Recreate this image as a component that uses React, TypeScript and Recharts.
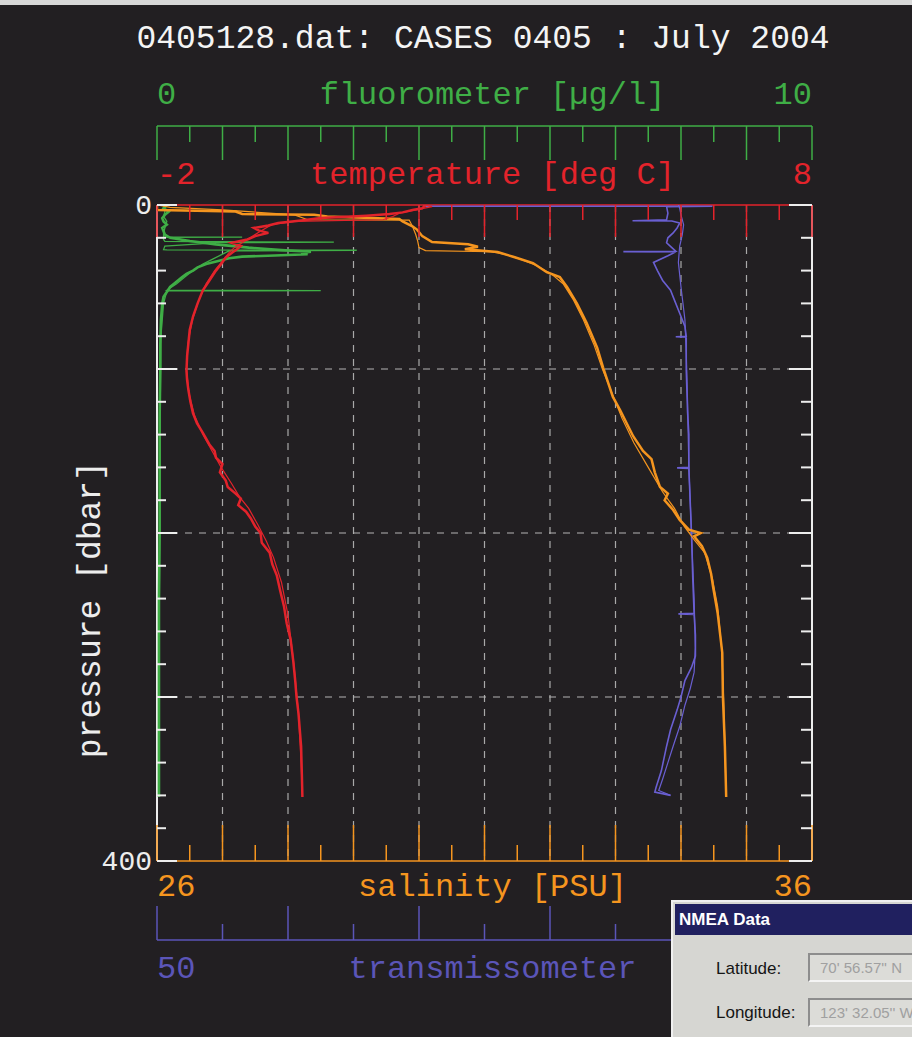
import React from 'react';
import { ScatterChart, Scatter, XAxis, YAxis, ReferenceLine } from 'recharts';

// axis ticks
const pressureTicks = [0, 20, 40, 60, 80, 100, 120, 140, 160, 180, 200, 220, 240, 260, 280, 300, 320, 340, 360, 380, 400];
const tempTicks = [-2, -1.5, -1, -0.5, 0, 0.5, 1, 1.5, 2, 2.5, 3, 3.5, 4, 4.5, 5, 5.5, 6, 6.5, 7, 7.5, 8];
const fluorTicks = [0, 0.5, 1, 1.5, 2, 2.5, 3, 3.5, 4, 4.5, 5, 5.5, 6, 6.5, 7, 7.5, 8, 8.5, 9, 9.5, 10];
const salTicks = [26, 26.5, 27, 27.5, 28, 28.5, 29, 29.5, 30, 30.5, 31, 31.5, 32, 32.5, 33, 33.5, 34, 34.5, 35, 35.5, 36];
const transTicks = [50, 55, 60, 65, 70, 75, 80, 85, 90, 95, 100];
const gridTemps = [-1, 0, 1, 2, 3, 4, 5, 6, 7];
const gridPressures = [100, 200, 300];

// temperature [deg C], down and up cast
const tempDownP = [0, 2, 3, 4.5, 5.5, 6.5, 8, 9.5, 11, 12.5, 14, 15.5, 17, 19, 21, 23, 25, 27, 29, 32, 36, 40, 46, 52, 60, 68, 76, 84, 92, 101, 107, 113, 120, 127, 133, 139, 146, 150, 154, 158, 163, 168, 172, 176, 179, 183, 187, 191, 196, 200, 206, 212, 219, 226, 235, 245, 255, 265, 278, 290, 300, 310, 320, 330, 345, 361];
const tempDownV = [2.1, 2.05, 1.9, 1.75, 1.55, 1.2, 0.5, 0.2, -0.15, -0.3, -0.52, -0.45, -0.3, -0.5, -0.62, -0.86, -0.72, -0.78, -0.85, -0.95, -1.02, -1.1, -1.2, -1.3, -1.38, -1.45, -1.5, -1.52, -1.54, -1.55, -1.54, -1.52, -1.49, -1.45, -1.39, -1.3, -1.2, -1.12, -1.1, -1.0, -1.04, -0.95, -0.92, -0.8, -0.72, -0.76, -0.64, -0.57, -0.5, -0.42, -0.4, -0.28, -0.24, -0.17, -0.12, -0.06, -0.02, 0.04, 0.08, 0.11, 0.13, 0.16, 0.18, 0.2, 0.21, 0.22];
const tempUpP = [361, 340, 310, 280, 250, 230, 215, 205, 195, 185, 178, 170, 160, 150, 140, 128, 115, 100, 85, 70, 58, 48, 40, 34, 29, 26, 23, 20, 16, 12, 10, 9, 7, 5, 3, 1, 0];
const tempUpV = [0.22, 0.2, 0.16, 0.09, 0.0, -0.1, -0.22, -0.33, -0.46, -0.6, -0.74, -0.86, -1.02, -1.16, -1.3, -1.43, -1.51, -1.55, -1.53, -1.46, -1.36, -1.25, -1.12, -1.0, -0.9, -0.82, -0.7, -0.58, -0.42, -0.25, 0.1, 1.45, 1.6, 1.7, 1.95, 2.2, 2.1];

// salinity [PSU]
const salDownP = [0, 3, 4, 5.5, 6, 7, 8.5, 10, 13, 15, 19, 22.6, 24, 25.5, 27, 28.7, 31.7, 35.4, 41, 44, 50, 60, 72, 87, 99, 117, 125, 141, 150, 155, 163, 172, 176, 180, 186, 192, 198, 200, 202, 208, 215, 225, 233, 249, 273, 300, 330, 361];
const salDownV = [26.0, 26.0, 27.2, 27.3, 28.4, 28.6, 29.7, 29.75, 29.9, 29.97, 30.05, 30.2, 30.75, 30.9, 30.7, 31.2, 31.45, 31.74, 31.95, 32.15, 32.26, 32.41, 32.56, 32.72, 32.81, 32.96, 33.07, 33.27, 33.42, 33.55, 33.6, 33.68, 33.8, 33.75, 33.88, 33.98, 34.12, 34.3, 34.2, 34.32, 34.4, 34.46, 34.49, 34.56, 34.63, 34.64, 34.67, 34.69];
const salUpP = [361, 330, 300, 270, 245, 228, 212, 204, 196, 185, 175, 160, 145, 130, 115, 100, 85, 70, 58, 48, 42, 37, 33, 30, 28.5, 27.8, 26, 22, 18, 13, 9.2, 9, 6, 3, 1.5, 0];
const salUpV = [34.69, 34.67, 34.65, 34.62, 34.56, 34.48, 34.36, 34.2, 34.05, 33.9, 33.72, 33.5, 33.28, 33.1, 32.95, 32.8, 32.67, 32.51, 32.36, 32.2, 32.02, 31.8, 31.55, 31.3, 31.1, 30.1, 30.0, 29.98, 29.95, 29.9, 29.85, 28.3, 28.1, 27.0, 26.2, 26.0];

// fluorometer [ug/l]
const fluorDownP = [0, 2, 4, 6, 8, 10, 12, 14, 16, 18, 20, 22, 24, 26, 27.5, 28.5, 29.3, 30, 30.8, 31.5, 32.5, 34, 36, 38, 40, 42, 44, 46, 48, 50, 53, 56, 60, 70, 85, 100, 130, 160, 200, 240, 280, 320, 361];
const fluorDownV = [0.15, 0.1, 0.18, 0.12, 0.08, 0.1, 0.15, 0.08, 0.1, 0.12, 0.2, 0.5, 0.9, 1.4, 1.9, 2.35, 2.2, 2.3, 1.8, 1.3, 1.1, 0.95, 0.75, 0.62, 0.55, 0.45, 0.38, 0.32, 0.26, 0.2, 0.15, 0.1, 0.08, 0.06, 0.05, 0.05, 0.04, 0.04, 0.04, 0.03, 0.03, 0.03, 0.03];
const fluorUpP = [361, 300, 200, 120, 80, 60, 54, 52.4, 52.2, 52, 48, 44, 40, 36, 33, 30, 28, 27.6, 27.4, 27.2, 25, 23, 22.6, 22.4, 22.2, 21, 19.8, 19.6, 19.4, 17, 14, 10, 7, 4, 2, 0];
const fluorUpV = [0.03, 0.03, 0.04, 0.05, 0.06, 0.1, 0.14, 0.15, 2.5, 0.15, 0.3, 0.42, 0.55, 0.7, 0.85, 1.0, 1.1, 3.05, 0.15, 0.1, 0.12, 0.95, 2.7, 0.95, 0.12, 0.1, 0.1, 1.3, 0.1, 0.1, 0.12, 0.15, 0.1, 0.12, 0.1, 0.1];

// transmissometer [%]
const transDownP = [0.8, 0.8, 1, 5, 9, 9.6, 9.8, 11, 14, 17, 20, 23, 26, 28.2, 28.4, 28.6, 31, 35, 40, 46, 52, 58, 66, 74, 80, 80.3, 80.6, 100, 126, 140, 160, 160.3, 160.6, 200, 228, 249, 249.3, 249.6, 262, 275, 282, 290, 300, 308, 320, 330, 345, 355, 358, 360];
const transDownV = [70.3, 92.4, 88.9, 89.0, 88.9, 86.3, 89.3, 89.9, 89.7, 89.4, 89.0, 88.9, 89.3, 89.6, 85.6, 89.6, 89.0, 87.9, 88.2, 88.6, 89.2, 89.5, 89.9, 90.3, 90.4, 89.6, 90.4, 90.4, 90.5, 90.6, 90.6, 89.7, 90.6, 90.8, 90.9, 91.0, 89.8, 91.0, 91.1, 91.1, 90.8, 90.3, 90.0, 89.7, 89.2, 88.9, 88.5, 88.1, 88.0, 89.2];
const transUpP = [360, 357, 350, 340, 330, 318, 305, 295, 285, 270, 240, 200, 160, 120, 90, 70, 50, 35, 25, 18, 12, 6, 2, 0];
const transUpV = [89.2, 88.3, 88.6, 89.0, 89.4, 89.9, 90.3, 90.7, 91.0, 91.1, 91.0, 90.8, 90.6, 90.5, 90.4, 90.3, 90.0, 89.8, 89.9, 90.1, 90.2, 90.0, 89.9, 89.8];

const zip = (p: number[], v: number[]) => p.map((pp, i) => ({ p: pp, v: v[i] }));

const BG = '#221f22';
const WHITE = '#ededed';
const RED = '#e3232b';
const ORANGE = '#f5951f';
const GREEN = '#3fae46';
const PURPLE = '#6a5fd2';
const PURPLE_AXIS = '#5b55b8';
const MONO = "'Liberation Mono', 'DejaVu Sans Mono', monospace";
const WIN = "'Liberation Sans', Arial, sans-serif";

interface AxisLook {
  color: string;
  textColor: string;
  dir: number;
  majorLen: number;
  minorLen: number;
  majorStep: number;
  labelDy: number;
  ends: [string, string];
  mid: number;
  title: string;
}

const xTick = (look: AxisLook, ticks: number[]) => (props: any) => {
  const { x, y, payload } = props;
  const v = payload.value as number;
  const q = v / look.majorStep;
  const major = Math.abs(q - Math.round(q)) < 1e-6;
  const len = major ? look.majorLen : look.minorLen;
  const txt = { fill: look.textColor, fontFamily: MONO, fontSize: 32 };
  return (
    <g>
      <line x1={x} y1={y} x2={x} y2={y + look.dir * len} stroke={look.color} strokeWidth={1.5} />
      {v === ticks[0] && look.ends[0] && (
        <text x={x} y={y + look.labelDy} textAnchor="start" {...txt}>{look.ends[0]}</text>
      )}
      {v === ticks[ticks.length - 1] && look.ends[1] && (
        <text x={x} y={y + look.labelDy} textAnchor="end" {...txt}>{look.ends[1]}</text>
      )}
      {v === look.mid && (
        <text x={x + 8} y={y + look.labelDy} textAnchor="middle" {...txt}>{look.title}</text>
      )}
    </g>
  );
};

const yTick = (dir: number, withLabels: boolean) => (props: any) => {
  const { x, y, payload } = props;
  const v = payload.value as number;
  const major = v % 100 === 0;
  const len = major ? (dir > 0 ? 20 : 23) : (dir > 0 ? 9 : 11);
  return (
    <g>
      <line x1={x} y1={y} x2={x + dir * len} y2={y} stroke={WHITE} strokeWidth={2} />
      {withLabels && (v === 0 || v === 400) && (
        <text x={x - 5} y={y + 9} textAnchor="end" fill={WHITE} fontFamily={MONO} fontSize={28}>{v}</text>
      )}
      {withLabels && v === 240 && (
        <text
          x={x - 65}
          y={y + 11}
          textAnchor="middle"
          dominantBaseline="central"
          transform={`rotate(-90 ${x - 65} ${y + 11})`}
          fill={WHITE}
          fontFamily={MONO}
          fontSize={33}
        >
          pressure [dbar]
        </text>
      )}
    </g>
  );
};

const NoDot = () => <g />;

const tempLook: AxisLook = { color: RED, textColor: RED, dir: 1, majorLen: 32, minorLen: 15, majorStep: 1, labelDy: -21, ends: ['-2', '8'], mid: 3, title: 'temperature [deg C]' };
const fluorLook: AxisLook = { color: GREEN, textColor: GREEN, dir: 1, majorLen: 34, minorLen: 16, majorStep: 1, labelDy: -22, ends: ['0', '10'], mid: 5, title: 'fluorometer [\u00b5g/l]' };
const salLook: AxisLook = { color: ORANGE, textColor: ORANGE, dir: -1, majorLen: 36, minorLen: 16, majorStep: 1, labelDy: 35, ends: ['26', '36'], mid: 31, title: 'salinity [PSU]' };
// right-hand end label sits under the NMEA window in the reference, so it is not drawn
const transLook: AxisLook = { color: PURPLE_AXIS, textColor: PURPLE_AXIS, dir: -1, majorLen: 34, minorLen: 16, majorStep: 10, labelDy: 38, ends: ['50', ''], mid: 75, title: 'transmissometer' };

const fieldStyle: React.CSSProperties = {
  position: 'absolute',
  left: 135,
  width: 120,
  height: 29,
  boxSizing: 'border-box',
  borderTop: '2px solid #8d8d8d',
  borderLeft: '2px solid #8d8d8d',
  borderBottom: '2px solid #f4f4f4',
  background: '#dcdcd8',
  color: '#a0a0a0',
  fontSize: 15,
  lineHeight: '25px',
  paddingLeft: 10,
  whiteSpace: 'pre',
  overflow: 'hidden',
};

const labelStyle: React.CSSProperties = {
  position: 'absolute',
  left: 43,
  fontSize: 17,
  color: '#151515',
  whiteSpace: 'pre',
};

const App: React.FC = () => {
  return (
    <div style={{ position: 'absolute', left: 0, top: 0, width: 912, height: 1037, background: BG, overflow: 'hidden' }}>
      <div style={{ position: 'absolute', left: 0, top: 0, width: 912, height: 5, background: '#d8d8d8' }} />
      <ScatterChart width={912} height={1037} margin={{ top: 66, right: 0, bottom: 47, left: 0 }}>
        <XAxis xAxisId="a_temp" orientation="top" type="number" dataKey="v" domain={[-2, 8]} ticks={tempTicks} interval={0}
          height={79} tickSize={0} tickMargin={0} tickLine={false} axisLine={{ stroke: RED, strokeWidth: 1.5 }}
          tick={xTick(tempLook, tempTicks)} allowDataOverflow />
        <XAxis xAxisId="b_fluor" orientation="top" type="number" dataKey="v" domain={[0, 10]} ticks={fluorTicks} interval={0}
          height={60} tickSize={0} tickMargin={0} tickLine={false} axisLine={{ stroke: GREEN, strokeWidth: 1.5 }}
          tick={xTick(fluorLook, fluorTicks)} allowDataOverflow />
        <XAxis xAxisId="c_sal" orientation="bottom" type="number" dataKey="v" domain={[26, 36]} ticks={salTicks} interval={0}
          height={79} tickSize={0} tickMargin={0} tickLine={false} axisLine={{ stroke: ORANGE, strokeWidth: 1.5 }}
          tick={xTick(salLook, salTicks)} allowDataOverflow />
        <XAxis xAxisId="d_trans" orientation="bottom" type="number" dataKey="v" domain={[50, 100]} ticks={transTicks} interval={0}
          height={50} tickSize={0} tickMargin={0} tickLine={false} axisLine={{ stroke: PURPLE_AXIS, strokeWidth: 1.5 }}
          tick={xTick(transLook, transTicks)} allowDataOverflow />
        <YAxis yAxisId="left" orientation="left" type="number" dataKey="p" domain={[0, 400]} reversed ticks={pressureTicks}
          interval={0} width={157} tickSize={0} tickMargin={0} tickLine={false} axisLine={{ stroke: WHITE, strokeWidth: 2 }}
          tick={yTick(1, true)} allowDataOverflow />
        <YAxis yAxisId="right" orientation="right" type="number" dataKey="p" domain={[0, 400]} reversed ticks={pressureTicks}
          interval={0} width={100} tickSize={0} tickMargin={0} tickLine={false} axisLine={{ stroke: WHITE, strokeWidth: 2 }}
          tick={yTick(-1, false)} allowDataOverflow />

        {gridTemps.map((t) => (
          <ReferenceLine key={`gx${t}`} xAxisId="a_temp" yAxisId="left" x={t} stroke="#a9a9a9" strokeDasharray="7 7" strokeWidth={1.2} />
        ))}
        {gridPressures.map((p) => (
          <ReferenceLine key={`gy${p}`} xAxisId="a_temp" yAxisId="left" y={p} stroke="#b4b4b4" strokeDasharray="7 7" strokeWidth={1.2} />
        ))}

        <Scatter name="fluor up" data={zip(fluorUpP, fluorUpV)} xAxisId="b_fluor" yAxisId="right" fill={GREEN}
          line={{ stroke: GREEN, strokeWidth: 1.3 }} shape={NoDot} legendType="none" isAnimationActive={false} />
        <Scatter name="fluor down" data={zip(fluorDownP, fluorDownV)} xAxisId="b_fluor" yAxisId="right" fill={GREEN}
          line={{ stroke: GREEN, strokeWidth: 2.6 }} shape={NoDot} legendType="none" isAnimationActive={false} />
        <Scatter name="trans down" data={zip(transDownP, transDownV)} xAxisId="d_trans" yAxisId="left" fill={PURPLE}
          line={{ stroke: PURPLE, strokeWidth: 1.6 }} shape={NoDot} legendType="none" isAnimationActive={false} />
        <Scatter name="trans up" data={zip(transUpP, transUpV)} xAxisId="d_trans" yAxisId="left" fill={PURPLE}
          line={{ stroke: PURPLE, strokeWidth: 1.2 }} shape={NoDot} legendType="none" isAnimationActive={false} />
        <Scatter name="sal up" data={zip(salUpP, salUpV)} xAxisId="c_sal" yAxisId="left" fill={ORANGE}
          line={{ stroke: ORANGE, strokeWidth: 1.2 }} shape={NoDot} legendType="none" isAnimationActive={false} />
        <Scatter name="sal down" data={zip(salDownP, salDownV)} xAxisId="c_sal" yAxisId="left" fill={ORANGE}
          line={{ stroke: ORANGE, strokeWidth: 2.5 }} shape={NoDot} legendType="none" isAnimationActive={false} />
        <Scatter name="temp up" data={zip(tempUpP, tempUpV)} xAxisId="a_temp" yAxisId="left" fill={RED}
          line={{ stroke: RED, strokeWidth: 1.2 }} shape={NoDot} legendType="none" isAnimationActive={false} />
        <Scatter name="temp down" data={zip(tempDownP, tempDownV)} xAxisId="a_temp" yAxisId="left" fill={RED}
          line={{ stroke: RED, strokeWidth: 2.5 }} shape={NoDot} legendType="none" isAnimationActive={false} />
      </ScatterChart>

      <svg width={912} height={70} style={{ position: 'absolute', left: 0, top: 0, pointerEvents: 'none' }}>
        <text x={483} y={48} textAnchor="middle" fill="#f4f4f4" fontFamily={MONO} fontSize={33}>
          0405128.dat: CASES 0405 : July 2004
        </text>
      </svg>

      <div style={{ position: 'absolute', left: 671, top: 900, width: 260, height: 140, boxSizing: 'border-box', background: '#d6d6d2',
        borderTop: '2px solid #f0f0f0', borderLeft: '2px solid #f0f0f0', fontFamily: WIN }}>
        <div style={{ position: 'absolute', left: 2, top: 2, right: 0, height: 31, background: '#20205f', color: '#ffffff',
          fontWeight: 'bold', fontSize: 17, lineHeight: '31px', paddingLeft: 4, whiteSpace: 'pre' }}>
          NMEA Data
        </div>
        <div style={{ ...labelStyle, top: 57 }}>Latitude:</div>
        <div style={{ ...fieldStyle, top: 51 }}>{"70' 56.57'' N"}</div>
        <div style={{ ...labelStyle, top: 101 }}>Longitude:</div>
        <div style={{ ...fieldStyle, top: 96 }}>{"123' 32.05'' W"}</div>
      </div>
    </div>
  );
};

export default App;
